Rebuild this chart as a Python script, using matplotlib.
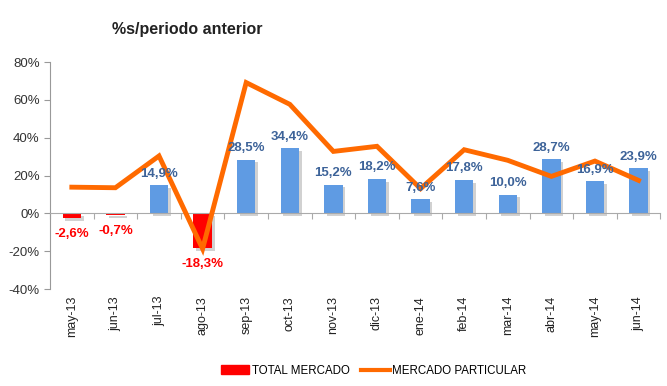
import matplotlib
matplotlib.use("Agg")
import matplotlib.pyplot as plt
import matplotlib.patheffects as pe
from matplotlib.lines import Line2D
from matplotlib.patches import Patch

months = ["may-13", "jun-13", "jul-13", "ago-13", "sep-13", "oct-13", "nov-13",
          "dic-13", "ene-14", "feb-14", "mar-14", "abr-14", "may-14", "jun-14"]
total_mercado = [-2.6, -0.7, 14.9, -18.3, 28.5, 34.4, 15.2,
                 18.2, 7.6, 17.8, 10.0, 28.7, 16.9, 23.9]
mercado_particular = [13.9, 13.6, 30.4, -18.7, 69.2, 57.7, 32.8,
                      35.5, 13.1, 33.7, 28.1, 19.6, 27.7, 17.5]
yticks = [-40, -20, 0, 20, 40, 60, 80]

BLUE, RED, ORANGE = "#5F9BE3", "#FF0000", "#FF6A00"
plt.rcParams["font.family"] = ["Liberation Sans", "DejaVu Sans"]

fig = plt.figure(figsize=(6.67, 3.86), dpi=100)
ax = fig.add_axes([0.075, 0.251, 0.915, 0.588])
x = list(range(len(months)))
colors = [RED if v < 0 else BLUE for v in total_mercado]
shadow = [pe.SimplePatchShadow(offset=(2, -2), shadow_rgbFace="0.6", alpha=0.45), pe.Normal()]
bars = ax.bar(x, total_mercado, width=0.42, color=colors, zorder=2)
for b in bars:
    b.set_path_effects(shadow)
ax.plot(x, mercado_particular, color=ORANGE, lw=3.5, zorder=3, solid_joinstyle="miter")

for xi, v in zip(x, total_mercado):
    txt = f"{v:.1f}%".replace(".", ",")
    if v < 0:
        ax.annotate(txt, (xi, v), xytext=(0, -7), textcoords="offset points",
                    ha="center", va="top", color=RED, fontsize=9.5, fontweight="bold", zorder=4)
    else:
        ax.annotate(txt, (xi, v), xytext=(0, 4), textcoords="offset points",
                    ha="center", va="bottom", color="#3D6399", fontsize=9.5, fontweight="bold", zorder=4)

ax.set_xlim(-0.5, len(months) - 0.5)
ax.set_ylim(-40, 80)
ax.set_yticks(yticks)
ax.set_yticklabels([f"{t}%" for t in yticks], fontsize=9.5, color="#333333")
ax.tick_params(axis="y", length=4, color="#999999")
for s in ("top", "right"):
    ax.spines[s].set_visible(False)
ax.spines["left"].set_color("#999999")
ax.spines["bottom"].set_position(("data", 0))
ax.spines["bottom"].set_color("#aaaaaa")
ax.set_xticks([i - 0.5 for i in range(len(months) + 1)])
ax.set_xticklabels([])
ax.tick_params(axis="x", length=4, color="#aaaaaa")
for xi, m in zip(x, months):
    ax.text(xi, -0.03, m, transform=ax.get_xaxis_transform(), rotation=90,
            ha="center", va="top", fontsize=9, color="#222222")

fig.text(0.168, 0.912, "%s/periodo anterior", fontsize=11.5, fontweight="bold", color="#222222")

handles = [Patch(color=RED), Line2D([], [], color=ORANGE, lw=3)]
fig.legend(handles, ["TOTAL MERCADO", "MERCADO PARTICULAR"], loc="center",
           bbox_to_anchor=(0.56, 0.04), ncol=2, frameon=False, fontsize=8.3,
           handlelength=2.5, handletextpad=0.2, columnspacing=1.0)

fig.savefig("out.png", dpi=100)
